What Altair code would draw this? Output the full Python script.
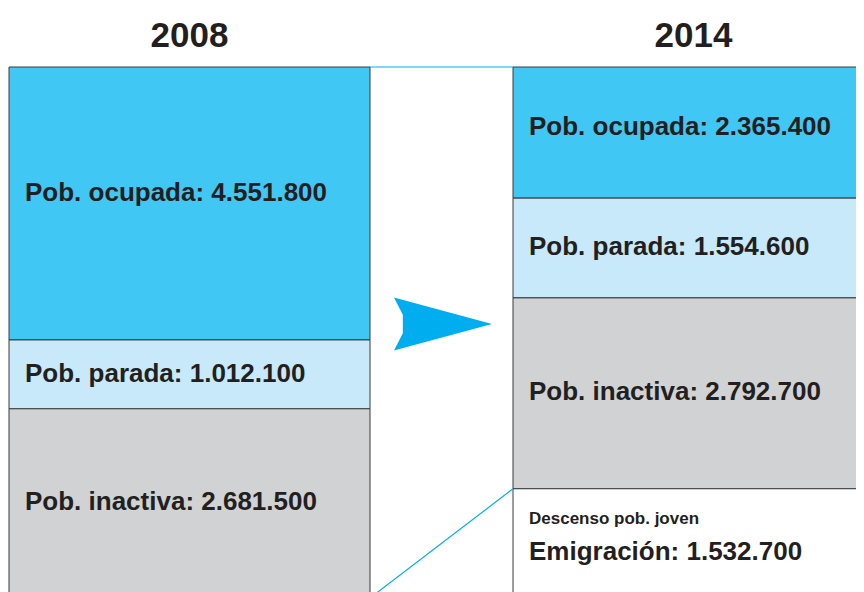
import altair as alt
import pandas as pd

# ---- data ----
years = ["2008", "2014"]
cats_2008 = ["Pob. ocupada", "Pob. parada", "Pob. inactiva"]
vals_2008 = [4551800, 1012100, 2681500]
cats_2014 = ["Pob. ocupada", "Pob. parada", "Pob. inactiva", "Emigración"]
vals_2014 = [2365400, 1554600, 2792700, 1532700]
emig_note = "Descenso pob. joven"

seg_colors = {
    "Pob. ocupada": "#40C7F4",
    "Pob. parada": "#C7E9F9",
    "Pob. inactiva": "#D1D2D4",
    "Emigración": "#FFFFFF",
}

FONT = "Liberation Sans, Arial, sans-serif"
INK = "#231F20"
BLUE = "#00AEEF"


def fmt(v):
    return f"{v:,}".replace(",", ".")


rows = []
for yr, cats, vals in [("2008", cats_2008, vals_2008), ("2014", cats_2014, vals_2014)]:
    start = 0
    for c, v in zip(cats, vals):
        rows.append(dict(year=yr, cat=c, start=start, end=start + v,
                         mid=start + v / 2, label=f"{c}: {fmt(v)}"))
        start += v
df = pd.DataFrame(rows)
total = sum(vals_2008)

df_lines = pd.DataFrame({
    "src": ["2008", "2008"],
    "dst": ["2014", "2014"],
    "y1": [0, total],
    "y2": [0, total - vals_2014[-1]],
})

df_main = df[df["cat"] != "Emigración"]
df_emig = df[df["cat"] == "Emigración"].assign(note=emig_note)

x_scale = alt.Scale(domain=years, range=[1, 866], paddingInner=143 / 504, paddingOuter=0)
y_scale = alt.Scale(type="pow", exponent=1.12, domain=[0, total], range=[0, 531],
                    nice=False, zero=True)

base_x = alt.X("year:N", scale=x_scale, title=None,
               axis=alt.Axis(orient="top", domain=False, ticks=False, tickSize=0, grid=False,
                             labelFont=FONT, labelFontSize=35, labelFontWeight="bold",
                             labelColor=INK, labelPadding=21, labelBaseline="alphabetic",
                             labelAngle=0))

bars = alt.Chart(df).mark_bar(stroke="#3A3A3A", strokeWidth=1).encode(
    x=base_x,
    y=alt.Y("start:Q", scale=y_scale, axis=None),
    y2="end:Q",
    color=alt.Color("cat:N", scale=alt.Scale(domain=list(seg_colors), range=list(seg_colors.values())),
                    legend=None),
)

labels = alt.Chart(df_main).mark_text(align="left", baseline="middle", dx=16, font=FONT,
                                      fontSize=26, fontWeight="bold", color=INK).encode(
    x=alt.X("year:N", bandPosition=0),
    y=alt.Y("mid:Q"),
    text="label:N",
)

emig_note_t = alt.Chart(df_emig).mark_text(align="left", baseline="middle", dx=16, dy=-24, font=FONT,
                                           fontSize=17, fontWeight="bold", color=INK).encode(
    x=alt.X("year:N", bandPosition=0),
    y=alt.Y("mid:Q"),
    text="note:N",
)

emig_lab = alt.Chart(df_emig).mark_text(align="left", baseline="middle", dx=16, dy=9, font=FONT,
                                        fontSize=26, fontWeight="bold", color=INK).encode(
    x=alt.X("year:N", bandPosition=0),
    y=alt.Y("mid:Q"),
    text="label:N",
)

lines = alt.Chart(df_lines).mark_rule(color=BLUE, strokeWidth=1.2).encode(
    x=alt.X("src:N", bandPosition=1),
    x2=alt.X2("dst:N", bandPosition=0),
    y="y1:Q",
    y2="y2:Q",
)

arrow_shape = "M -1 -0.54 L 1 0 L -1 0.54 L -0.82 0.19 L -0.82 -0.19 Z"
arrow = alt.Chart(pd.DataFrame({"k": [1]})).mark_point(
    shape=arrow_shape, filled=True, fill=BLUE, opacity=1, size=9604
).encode(x=alt.value(435), y=alt.value(257))

chart = alt.layer(bars, lines, labels, emig_note_t, emig_lab, arrow).properties(
    width=848, height=525,
    padding={"left": 0, "right": 0, "top": 59, "bottom": 0},
    autosize=alt.AutoSizeParams(type="none"),
).configure_view(strokeWidth=0)

chart.save("out.html", embed_options={"renderer": "svg", "actions": False})
